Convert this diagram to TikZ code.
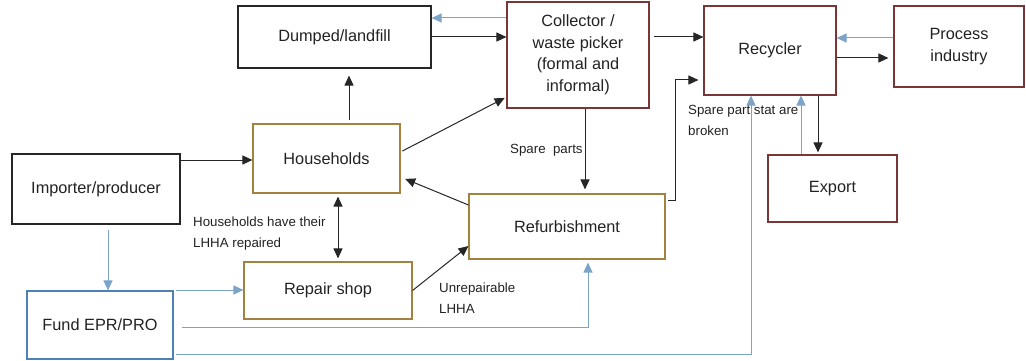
\documentclass[tikz,border=0pt]{standalone}
\usepackage{fontspec}
\setmainfont{Liberation Sans}
\usetikzlibrary{arrows.meta,calc}
\definecolor{maroonline}{HTML}{7A3636}
\definecolor{goldline}{HTML}{A2823E}
\definecolor{fundline}{HTML}{4F82B4}
\definecolor{bluearr}{HTML}{7CA4C9}
\definecolor{txt}{HTML}{222222}
\begin{document}
\begin{tikzpicture}[x=1pt,y=-1pt,
  box/.style={draw, line width=1.1pt, inner sep=2pt, align=center,
    font=\fontsize{16.3}{21.5}\selectfont, text=txt},
  blackbox/.style={box, draw=black!85},
  redbox/.style={box, draw=maroonline},
  goldbox/.style={box, draw=goldline},
  bluebox/.style={box, draw=fundline},
  lbl/.style={inner sep=0pt, anchor=west, align=left,
    font=\fontsize{13.3}{21}\selectfont, text=txt},
  tip/.tip={Triangle[length=10pt,width=9pt]},
  ar/.style={line width=1pt, -tip},
  blk/.style={ar, draw=black!85},
  blu/.style={ar, draw=bluearr}]
\useasboundingbox (0,0) rectangle (1026,361);

% boxes
\node[blackbox, minimum width=193pt, minimum height=62pt] (dump) at (334.5,37) {Dumped/landfill};
\node[redbox, minimum width=142pt, minimum height=106pt] (coll) at (578,55) {Collector /\\waste picker\\(formal and\\informal)};
\node[redbox, minimum width=132pt, minimum height=89pt] (recy) at (770,50.5) {Recycler};
\node[redbox, minimum width=130pt, minimum height=81pt] (proc) at (959,46.5) {Process\\industry};
\node[redbox, minimum width=129pt, minimum height=67pt] (expo) at (832.5,188.5) {Export};
\node[blackbox, minimum width=168pt, minimum height=70pt] (imp) at (96,189) {Importer/producer};
\node[goldbox, minimum width=147pt, minimum height=69pt] (hh) at (326.5,158.5) {Households};
\node[bluebox, minimum width=146pt, minimum height=68pt] (fund) at (100,325) {Fund EPR/PRO};
\node[goldbox, minimum width=168pt, minimum height=57pt] (rep) at (328,290.5) {Repair shop};
\node[goldbox, minimum width=196pt, minimum height=65pt] (ref) at (567,226.5) {Refurbishment};

% flows between collector, landfill and recycler
\draw[blu] (coll.west |- 0,18) -- (dump.east |- 0,18);
\draw[blk] (dump.east) -- (coll.west |- dump.east);
\draw[blk, shorten <=4pt] (coll.east |- 0,37) -- (recy.west |- 0,37);
\draw[blk, shorten <=2pt, shorten >=5pt] (ref.east |- 0,200) -| ($(recy.west |- 0,80)+(-28,0)$) -- (recy.west |- 0,80);
\draw[blu] (proc.west |- 0,38) -- (recy.east |- 0,38);
\draw[blk, shorten >=5pt] (recy.east |- 0,58) -- (proc.west |- 0,58);
\draw[blk, shorten >=2pt] (recy.south -| 818,0) -- (expo.north -| 818,0);
\draw[blu] (expo.north -| 801,0) -- (recy.south -| 801,0);
\draw[blu, shorten <=2pt] (fund.east |- 0,354) -| (recy.south -| 751,0);

% households and their neighbours
\draw[blk, shorten <=3pt, shorten >=7pt] (hh.north -| 349,0) -- (dump.south -| 349,0);
\draw[blk, shorten <=2pt, shorten >=2pt] (hh.east |- 0,152) -- (coll.west |- 0,97);
\draw[blk, shorten >=5pt] (ref.west |- 0,205) -- (hh.east |- 0,177);
\draw[blk] (rep.east) -- (ref.west |- 0,246);
\draw[blk, tip-tip, shorten <=3pt, shorten >=3pt] (hh.south -| 338,0) -- (rep.north -| 338,0);
\draw[blk] (imp.east |- 0,160) -- (hh.west |- 0,160);
\draw[blk, shorten >=4pt] (coll.south -| 585,0) -- (ref.north -| 585,0);

% fund flows
\draw[blu, shorten <=5pt] (imp.south -| 108,0) -- (fund.north -| 108,0);
\draw[blu, shorten <=2pt] (fund.east |- 0,290) -- (rep.west |- 0,290);
\draw[blu, shorten <=8pt, shorten >=3pt] (fund.east |- 0,327) -| (ref.south -| 588,0);

% labels
\node[lbl] (lsp) at (510,150) {Spare~\ parts};
\node[lbl] (lsb) at (688,120.5) {Spare part stat are\\broken};
\node[lbl] (lhh) at (193,233.5) {Households have their\\LHHA repaired};
\node[lbl] (lun) at (439,298.5) {Unrepairable\\LHHA};
\end{tikzpicture}
\end{document}
